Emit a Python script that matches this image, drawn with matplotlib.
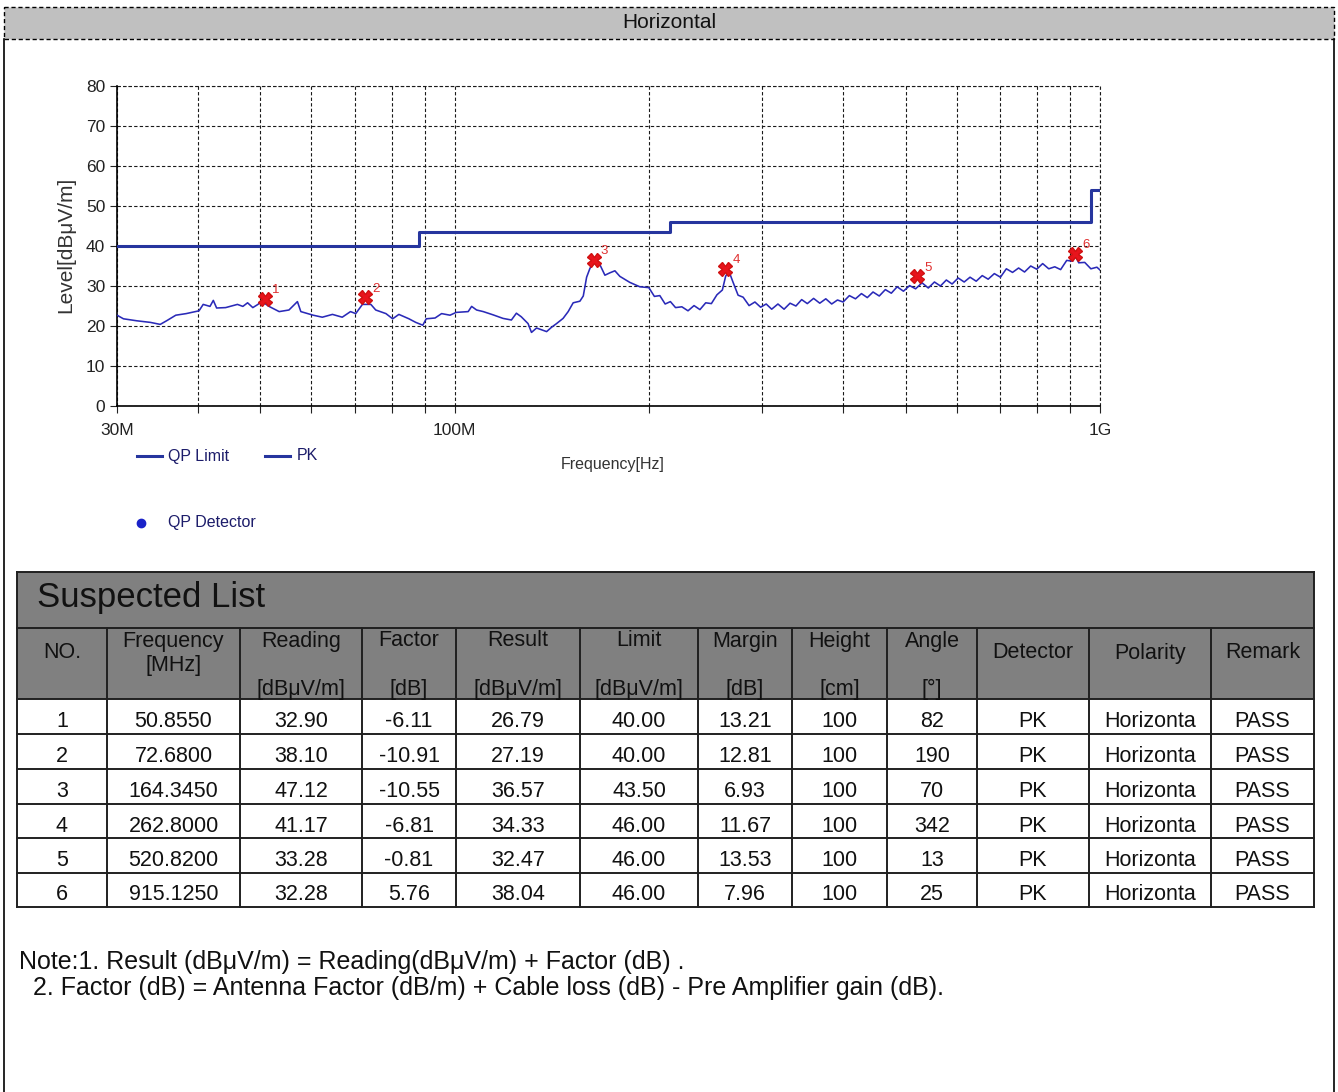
import matplotlib
matplotlib.use("Agg")
import matplotlib.pyplot as plt
from matplotlib.patches import Rectangle
from matplotlib.lines import Line2D
from matplotlib.ticker import FixedLocator, NullFormatter

W, H = 1338, 1092
SANS = ["Liberation Sans", "DejaVu Sans"]

# QP limit (step line)
limit_freq = [30, 88, 88, 216, 216, 970, 970, 1000]
limit_level = [40, 40, 43.5, 43.5, 46, 46, 54, 54]

# PK sweep, 30 MHz - 1 GHz
trace_freq = [
    30.0, 30.7, 32.2, 33.8, 35.0, 35.8, 37.0, 38.4, 40.2, 40.8, 41.8, 42.3,
    42.8, 44.2, 46.1, 47.0, 47.8, 48.7, 49.6, 50.2, 51.6, 53.5, 55.4, 57.1,
    57.8, 60.4, 62.4, 64.7, 67.0, 69.0, 70.3, 72.0, 74.2, 75.5, 78.3, 80.2,
    82.0, 85.0, 87.1, 89.3, 90.4, 93.3, 95.5, 98.4, 100.6, 105.0, 106.3,
    108.2, 110.8, 114.7, 118.9, 122.5, 124.7, 126.9, 130.0, 131.6, 134.0,
    138.9, 141.4, 143.9, 147.3, 150.0, 152.7, 156.4, 158.3, 160.2, 162.1,
    165.0, 168.0, 171.0, 174.1, 177.2, 180.4, 186.9, 193.7,
    200, 204, 208, 212, 216, 220, 225, 230, 235, 240, 245, 250, 255, 260,
    263, 266, 270, 275, 280, 286, 292, 298, 304, 310, 317, 324, 331, 338,
    345, 352, 360, 368, 376, 384, 392, 400, 409, 418, 427, 436, 445, 455,
    465, 475, 485, 496, 507, 518, 530, 542, 554, 566, 578, 590, 603, 616,
    629, 643, 657, 671, 686, 701, 716, 732, 748, 764, 781, 798, 815, 833,
    851, 869, 888, 907, 915, 927, 947, 968, 989, 1000,
]
trace_level = [
    22.7, 21.8, 21.3, 20.9, 20.4, 21.3, 22.7, 23.1, 23.8, 25.4, 24.9, 26.4,
    24.5, 24.6, 25.4, 24.9, 25.8, 24.6, 25.4, 26.2, 24.9, 23.6, 24.0, 26.1,
    23.6, 22.7, 22.2, 22.9, 22.2, 23.6, 23.1, 25.4, 25.4, 24.0, 23.1, 21.8,
    22.9, 21.8, 20.9, 20.2, 21.8, 22.0, 23.1, 22.7, 23.4, 23.6, 24.9,
    24.0, 23.6, 22.8, 21.9, 21.5, 23.2, 22.3, 20.6, 18.4, 19.5,
    18.6, 19.7, 20.6, 21.9, 23.6, 25.8, 26.2, 27.5, 32.2, 34.4,
    36.5, 35.3, 32.7, 33.3, 33.8, 32.4, 30.9, 29.8,
    29.6, 27.4, 27.6, 25.5, 26.1, 24.6, 24.8, 23.8, 25.1, 24.1, 25.8, 25.6,
    27.8, 29.0, 32.4, 33.8, 31.0, 27.7, 27.2, 25.1, 26.0, 24.7, 25.5, 24.2,
    25.5, 24.2, 25.7, 25.0, 26.6, 25.6, 26.9, 25.7, 26.8, 25.5, 26.5, 26.0,
    27.6, 26.8, 28.1, 27.1, 28.5, 27.5, 29.1, 28.2, 29.8, 28.7, 30.1, 29.3,
    30.8, 29.5, 31.0, 30.0, 31.5, 30.5, 32.0, 31.0, 32.2, 31.2, 32.6, 31.7,
    33.1, 32.2, 34.3, 33.4, 34.5, 33.5, 35.0, 34.2, 35.6, 34.3, 34.8, 34.1,
    36.4, 36.2, 37.6, 35.8, 35.9, 34.3, 34.7, 34.0,
]

# suspected list
no = [1, 2, 3, 4, 5, 6]
freq_mhz = [50.8550, 72.6800, 164.3450, 262.8000, 520.8200, 915.1250]
reading = [32.90, 38.10, 47.12, 41.17, 33.28, 32.28]
factor = [-6.11, -10.91, -10.55, -6.81, -0.81, 5.76]
result = [26.79, 27.19, 36.57, 34.33, 32.47, 38.04]
limit = [40.00, 40.00, 43.50, 46.00, 46.00, 46.00]
margin = [13.21, 12.81, 6.93, 11.67, 13.53, 7.96]
height_cm = [100, 100, 100, 100, 100, 100]
angle = [82, 190, 70, 342, 13, 25]
detector = ["PK"] * 6
polarity = ["Horizonta"] * 6
remark = ["PASS"] * 6

head_top = ["NO.", "Frequency", "Reading", "Factor", "Result", "Limit",
            "Margin", "Height", "Angle", "Detector", "Polarity", "Remark"]
head_unit = ["", "[MHz]", "[dBμV/m]", "[dB]", "[dBμV/m]", "[dBμV/m]",
             "[dB]", "[cm]", "[°]", "", "", ""]

LIMIT_BLUE = "#26359e"
TRACE_BLUE = "#2a2ab8"

fig = plt.figure(figsize=(W / 100, H / 100), dpi=100)

# page overlay in pixel coordinates (y down)
ov = fig.add_axes([0, 0, 1, 1], zorder=-1)
ov.set_xlim(0, W)
ov.set_ylim(H, 0)
ov.axis("off")

# page frame and header band
ov.add_patch(Rectangle((4, 7), 1330, 32, facecolor="#c0c0c0",
                       edgecolor="black", lw=1.0, ls=(0, (3, 2))))
ov.plot([3.5, 3.5], [39, H], color="black", lw=1.2)
ov.plot([1333.5, 1333.5], [39, H], color="black", lw=1.2)
ov.text(669, 23, "Horizontal", ha="center", va="center", fontsize=15,
        family=SANS, color="#111111")

# ---- spectrum chart ----
ax = fig.add_axes([117 / W, (H - 406) / H, (1100 - 117) / W, (406 - 86) / H])
ax.set_xscale("log")
ax.set_xlim(30, 1000)
ax.set_ylim(0, 80)

ax.plot(limit_freq, limit_level, color=LIMIT_BLUE, lw=2.2, zorder=3)
ax.plot(trace_freq, trace_level, color=TRACE_BLUE, lw=1.15, zorder=4)
ax.plot(freq_mhz, result, ls="none", marker="X", ms=10, color="#e8141c",
        markeredgecolor="#d01010", zorder=5)
for n, f, r in zip(no, freq_mhz, result):
    ax.annotate(str(n), (f, r), xytext=(5, 4), textcoords="offset points",
                fontsize=9.5, color="#e03030", family=SANS, zorder=6)

ax.xaxis.set_major_locator(FixedLocator([30, 100, 1000]))
ax.xaxis.set_minor_locator(FixedLocator(
    [40, 50, 60, 70, 80, 90, 200, 300, 400, 500, 600, 700, 800, 900]))
ax.xaxis.set_minor_formatter(NullFormatter())
ax.set_xticklabels(["30M", "100M", "1G"])
ax.set_yticks(range(0, 81, 10))
ax.grid(True, which="both", axis="x", color="#1a1a1a", lw=0.8,
        ls=(0, (3, 2)))
ax.grid(True, which="major", axis="y", color="#1a1a1a", lw=0.8,
        ls=(0, (3, 2)))
ax.plot([1000, 1000], [0, 80], color="#1a1a1a", lw=0.8, ls=(0, (3, 2)),
        clip_on=False)
ax.plot([30, 1000], [80, 80], color="#1a1a1a", lw=0.8, ls=(0, (3, 2)),
        clip_on=False)
ax.set_axisbelow(True)
for side in ("top", "right"):
    ax.spines[side].set_visible(False)
for side in ("left", "bottom"):
    ax.spines[side].set_linewidth(1.2)
ax.tick_params(axis="both", which="both", direction="out", length=5,
               width=0.8, labelsize=12.5, colors="#222222")
ax.tick_params(axis="x", which="major", pad=7)
for lbl in ax.get_xticklabels() + ax.get_yticklabels():
    lbl.set_family(SANS)

fig.text(66 / W, 1 - 245 / H, "Level[dBμV/m]", rotation=90, ha="center",
         va="center", fontsize=15, family=SANS, color="#333333")
ov.text(613, 464, "Frequency[Hz]", ha="center", va="center", fontsize=11.5,
        family=SANS, color="#333333")

# legend
ov.add_line(Line2D([137, 162], [456, 456], color=LIMIT_BLUE, lw=2.2))
ov.text(168, 456, "QP Limit", ha="left", va="center", fontsize=11.5,
        family=SANS, color="#1c1c6a")
ov.add_line(Line2D([265, 290], [456, 456], color=LIMIT_BLUE, lw=2.2))
ov.text(297, 456, "PK", ha="left", va="center", fontsize=11.5,
        family=SANS, color="#1c1c6a")
ov.plot([141], [523], marker="o", ms=6, color="#1a22c8", ls="none")
ov.text(168, 523, "QP Detector", ha="left", va="center", fontsize=11.5,
        family=SANS, color="#1c1c6a")

# ---- suspected list table ----
col_x = [17, 107, 240, 362, 456, 580, 698, 792, 887, 977, 1089, 1211, 1314]
row_y = [699, 734, 769, 804, 838, 873, 907]
t_top, h_top = 572, 628
grey = "#808080"
edge = "#202020"

ov.add_patch(Rectangle((col_x[0], t_top), col_x[-1] - col_x[0],
                       row_y[0] - t_top, facecolor=grey, edgecolor="none"))
ov.text(37, 598, "Suspected List", ha="left", va="center", fontsize=25,
        family=SANS, color="#111111")

# horizontal rules
for y in [t_top, h_top] + row_y:
    ov.plot([col_x[0], col_x[-1]], [y, y], color=edge, lw=1.4)
# vertical rules
for x in col_x:
    y0 = t_top if x in (col_x[0], col_x[-1]) else h_top
    ov.plot([x, x], [y0, row_y[-1]], color=edge, lw=1.4)

txt_kw = dict(ha="center", va="center", fontsize=15.5, family=SANS,
              color="#111111")
for i, (top, unit) in enumerate(zip(head_top, head_unit)):
    cx = (col_x[i] + col_x[i + 1]) / 2
    if i == 1:
        ov.text(cx, 641, top, **txt_kw)
        ov.text(cx, 665, unit, **txt_kw)
    elif unit:
        ov.text(cx, 641, top, **txt_kw)
        ov.text(cx, 689, unit, **txt_kw)
    else:
        ov.text(cx, 653, top, **txt_kw)

rows = zip(no, freq_mhz, reading, factor, result, limit, margin, height_cm,
           angle, detector, polarity, remark)
for r, vals in enumerate(rows):
    cells = [str(vals[0]), f"{vals[1]:.4f}", f"{vals[2]:.2f}",
             f"{vals[3]:.2f}", f"{vals[4]:.2f}", f"{vals[5]:.2f}",
             f"{vals[6]:.2f}", str(vals[7]), str(vals[8]), vals[9],
             vals[10], vals[11]]
    cy = (row_y[r] + row_y[r + 1]) / 2 + 5
    for i, c in enumerate(cells):
        cx = (col_x[i] + col_x[i + 1]) / 2
        ov.text(cx, cy, c, **txt_kw)

# notes
ov.text(19, 962, "Note:1. Result (dBμV/m) = Reading(dBμV/m) + Factor (dB) .",
        ha="left", va="center", fontsize=18, family=SANS, color="#111111")
ov.text(33, 988, "2. Factor (dB) = Antenna Factor (dB/m) + Cable loss (dB) "
        "- Pre Amplifier gain (dB).",
        ha="left", va="center", fontsize=18, family=SANS, color="#111111")

fig.savefig("out.png", dpi=100)
